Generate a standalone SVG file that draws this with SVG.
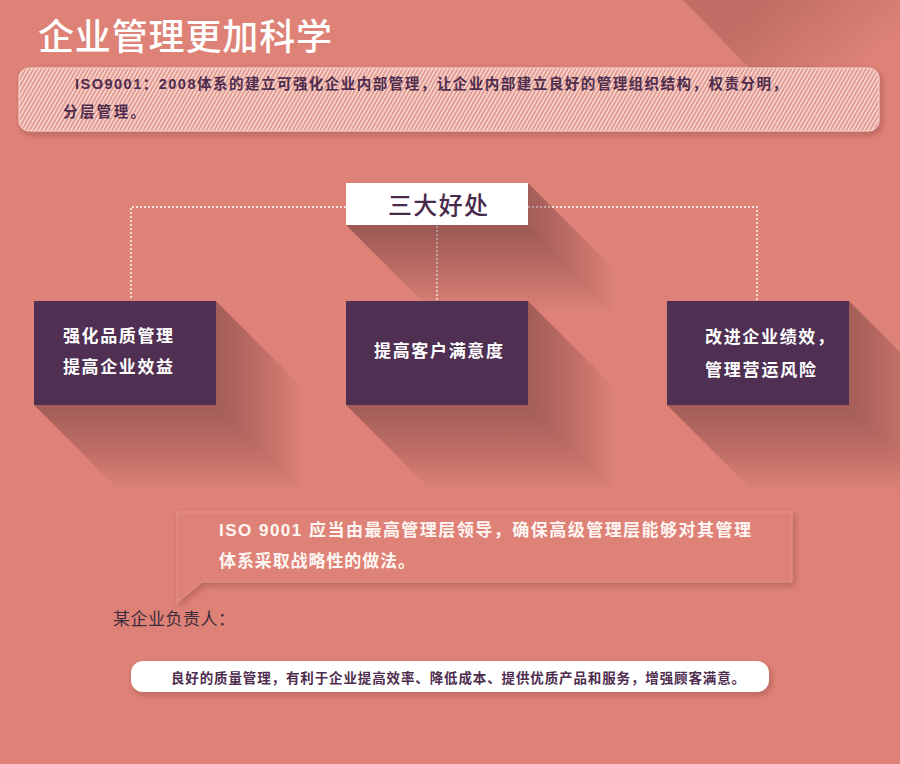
<svg xmlns="http://www.w3.org/2000/svg" width="900" height="764" viewBox="0 0 900 764">
  <defs>
    <style>
      .cjk { font-family: "Liberation Sans", "Noto Sans CJK SC", sans-serif; }
      .title { font-size: 36px; fill: #ffffff; font-weight: 500; }
      .intro { font-size: 14.5px; font-weight: bold; fill: #4e2d4e; }
      .head { font-size: 24px; font-weight: 500; fill: #4a2a4c; }
      .boxtxt { font-size: 17px; font-weight: bold; fill: #ffffff; }
      .quote { font-size: 17px; font-weight: bold; fill: #fff6f3; }
      .who { font-size: 17px; fill: #3e2b3c; }
      .pill { font-size: 13.5px; font-weight: bold; fill: #4e2d4e; }
      .card { fill: #4f2f52; }
      .link { fill: none; stroke: #ffffff; stroke-width: 1.4; stroke-dasharray: 2 2; }
    </style>
    <pattern id="hatch" patternUnits="userSpaceOnUse" width="3.4" height="3.4" patternTransform="rotate(30)">
      <rect width="3.4" height="3.4" fill="#e39a90"/>
      <rect width="1.3" height="3.4" fill="#fbe3de"/>
    </pattern>
    <linearGradient id="shR" gradientUnits="userSpaceOnUse" x1="182" y1="0" x2="270" y2="0">
      <stop offset="0" stop-color="#3a1a1f" stop-opacity="0.36"/>
      <stop offset="0.5" stop-color="#3a1a1f" stop-opacity="0.2"/>
      <stop offset="1" stop-color="#3a1a1f" stop-opacity="0"/>
    </linearGradient>
    <linearGradient id="shCardB" gradientUnits="userSpaceOnUse" x1="0" y1="104" x2="0" y2="192">
      <stop offset="0" stop-color="#3a1a1f" stop-opacity="0.36"/>
      <stop offset="0.5" stop-color="#3a1a1f" stop-opacity="0.2"/>
      <stop offset="1" stop-color="#3a1a1f" stop-opacity="0"/>
    </linearGradient>
    <linearGradient id="shHeadB" gradientUnits="userSpaceOnUse" x1="0" y1="42" x2="0" y2="130">
      <stop offset="0" stop-color="#3a1a1f" stop-opacity="0.4"/>
      <stop offset="0.5" stop-color="#3a1a1f" stop-opacity="0.22"/>
      <stop offset="1" stop-color="#3a1a1f" stop-opacity="0"/>
    </linearGradient>
    <linearGradient id="corner" gradientUnits="userSpaceOnUse" x1="770" y1="0" x2="840" y2="85">
      <stop offset="0" stop-color="#4a1c1c" stop-opacity="0.2"/>
      <stop offset="1" stop-color="#4a1c1c" stop-opacity="0"/>
    </linearGradient>
    <filter id="drop" x="-5%" y="-20%" width="110%" height="150%">
      <feDropShadow dx="2" dy="3" stdDeviation="3" flood-color="#5a2020" flood-opacity="0.3"/>
    </filter>
  </defs>

  <rect width="900" height="764" fill="#de8277"/>
  <polygon points="683,0 900,0 900,120 800,120" fill="url(#corner)"/>

  <g id="title">
    <text class="cjk title" x="38" y="49.5" textLength="294" lengthAdjust="spacing">企业管理更加科学</text>
  </g>

  <g id="intro">
    <rect x="19" y="68" width="860" height="63" rx="10" fill="url(#hatch)" stroke="#f6d6d0" stroke-width="1" filter="url(#drop)"/>
    <text class="cjk intro" x="75" y="89" textLength="712" lengthAdjust="spacing">ISO9001：2008体系的建立可强化企业内部管理，让企业内部建立良好的管理组织结构，权责分明，</text>
    <text class="cjk intro" x="63" y="117" textLength="82" lengthAdjust="spacing">分层管理。</text>
  </g>

  <g id="connectors">
    <polyline class="link" points="346,207 131,207 131,300"/>
    <polyline class="link" points="528,207 757,207 757,300"/>
    <line class="link" x1="437" y1="226" x2="437" y2="300"/>
  </g>

  <g id="head" transform="translate(346,183)">
    <polygon points="182,0 272,90 272,132 182,42" fill="url(#shR)"/>
    <polygon points="0,42 182,42 272,132 90,132" fill="url(#shHeadB)"/>
    <rect width="182" height="42" fill="#ffffff"/>
    <text class="cjk head" x="42" y="30.5" textLength="100" lengthAdjust="spacing">三大好处</text>
  </g>

  <g id="card1" transform="translate(34,301)">
    <polygon points="182,0 272,90 272,194 182,104" fill="url(#shR)"/>
    <polygon points="0,104 182,104 272,194 90,194" fill="url(#shCardB)"/>
    <rect class="card" width="182" height="104"/>
    <text class="cjk boxtxt" x="29" y="40.5" textLength="110" lengthAdjust="spacing">强化品质管理</text>
    <text class="cjk boxtxt" x="29" y="72" textLength="110" lengthAdjust="spacing">提高企业效益</text>
  </g>

  <g id="card2" transform="translate(346,301)">
    <polygon points="182,0 272,90 272,194 182,104" fill="url(#shR)"/>
    <polygon points="0,104 182,104 272,194 90,194" fill="url(#shCardB)"/>
    <rect class="card" width="182" height="104"/>
    <text class="cjk boxtxt" x="28" y="56" textLength="129" lengthAdjust="spacing">提高客户满意度</text>
  </g>

  <g id="card3" transform="translate(667,301)">
    <polygon points="182,0 272,90 272,194 182,104" fill="url(#shR)"/>
    <polygon points="0,104 182,104 272,194 90,194" fill="url(#shCardB)"/>
    <rect class="card" width="182" height="104"/>
    <text class="cjk boxtxt" x="38" y="42" textLength="129" lengthAdjust="spacing">改进企业绩效，</text>
    <text class="cjk boxtxt" x="38" y="74.5" textLength="111" lengthAdjust="spacing">管理营运风险</text>
  </g>

  <g id="quote">
    <path d="M177,512 H792 V582 H202 L177,603 Z" fill="#de8277" stroke="#e3918a" stroke-width="1" filter="url(#drop)"/>
    <text class="cjk quote" x="219" y="535.5" textLength="532" lengthAdjust="spacing">ISO 9001 应当由最高管理层领导，确保高级管理层能够对其管理</text>
    <text class="cjk quote" x="219" y="566.5" textLength="196" lengthAdjust="spacing">体系采取战略性的做法。</text>
  </g>

  <g id="speaker">
    <text class="cjk who" x="113" y="624.5" textLength="122" lengthAdjust="spacing">某企业负责人：</text>
  </g>

  <g id="summary">
    <rect x="131" y="661" width="638" height="31" rx="12" fill="#ffffff" filter="url(#drop)"/>
    <text class="cjk pill" x="171" y="682.5" textLength="574" lengthAdjust="spacing">良好的质量管理，有利于企业提高效率、降低成本、提供优质产品和服务，增强顾客满意。</text>
  </g>
</svg>
